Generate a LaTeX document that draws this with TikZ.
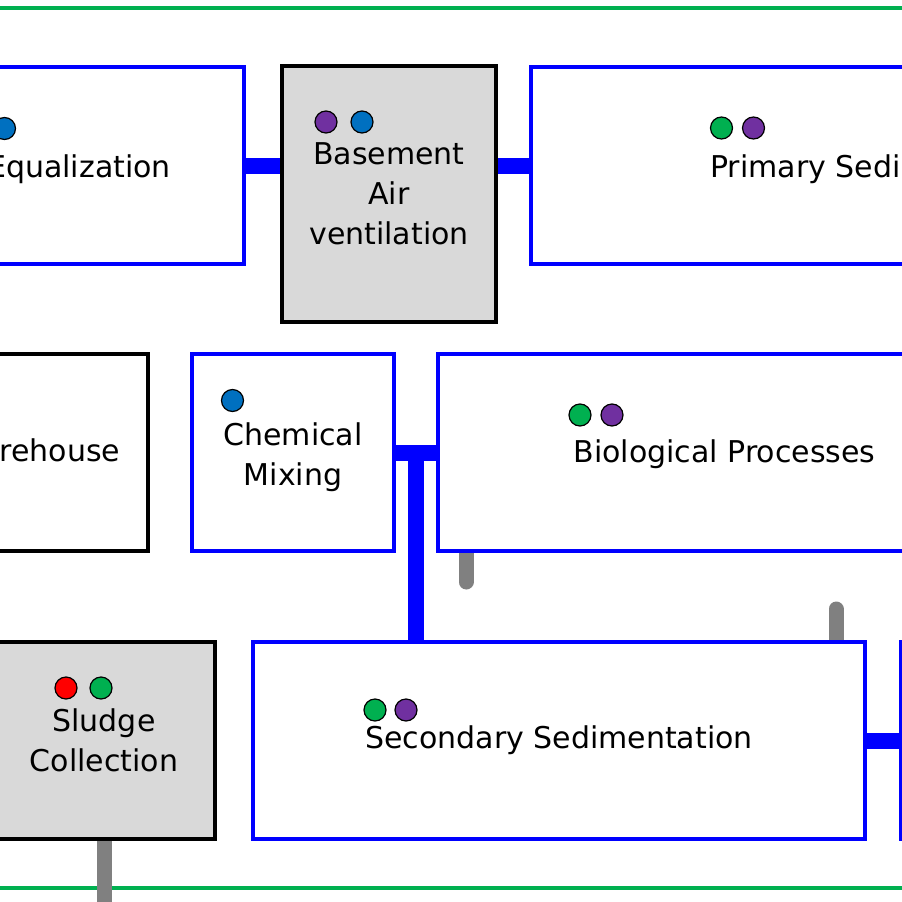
\documentclass[tikz,border=0pt]{standalone}
\usepackage{fontspec}
\setmainfont{DejaVu Sans}
\usetikzlibrary{backgrounds,calc}
\definecolor{lineblue}{HTML}{0000FF}
\definecolor{linegreen}{HTML}{00B050}
\definecolor{boxgray}{HTML}{D9D9D9}
\definecolor{stubgray}{HTML}{808080}
\definecolor{dotblue}{HTML}{0070C0}
\definecolor{dotpurple}{HTML}{7030A0}
\definecolor{dotgreen}{HTML}{00B050}
\definecolor{dotred}{HTML}{FF0000}
\begin{document}
\begin{tikzpicture}[x=1pt,y=-1pt,
  boxbase/.style={rectangle, line width=4pt, inner sep=0pt},
  bluebox/.style={boxbase, draw=lineblue, fill=white},
  blackbox/.style={boxbase, draw=black, fill=white},
  graybox/.style={boxbase, draw=black, fill=boxgray},
  boxtext/.style={align=center, inner sep=0pt, font=\fontsize{30}{40}\selectfont, text=black},
  pipe/.style={draw=lineblue, line width=16pt},
  stub/.style={draw=stubgray, line width=15pt, line cap=round},
  stubflat/.style={draw=stubgray, line width=15pt},
  rail/.style={draw=linegreen, line width=4pt},
  dot/.style={circle, draw=black, line width=1.2pt, minimum size=22pt, inner sep=0pt}]
\useasboundingbox (0,0) rectangle (902,902);
\clip (0,0) rectangle (902,902);

% boxes
\node[bluebox, minimum width=330pt, minimum height=197pt] (equal) at (79,165.5) {};
\node[graybox, minimum width=214pt, minimum height=256pt] (basement) at (389,194) {};
\node[bluebox, minimum width=703pt, minimum height=197pt] (primary) at (882.5,165.5) {};
\node[blackbox, minimum width=226pt, minimum height=197pt] (warehouse) at (35,452.5) {};
\node[bluebox, minimum width=202pt, minimum height=197pt] (chem) at (293,452.5) {};
\node[bluebox, minimum width=573pt, minimum height=197pt] (bio) at (724.5,452.5) {};
\node[graybox, minimum width=222pt, minimum height=197pt] (sludge) at (104,740.5) {};
\node[bluebox, minimum width=612pt, minimum height=197pt] (secondary) at (559,740.5) {};
\node[bluebox, minimum width=398pt, minimum height=197pt] (nextbox) at (1100,740.5) {};

% texts
\node[boxtext] (equalT) at ([yshift=-3.3pt]equal.center) {Equalization};
\node[boxtext] (basementT) at (basement.center) {Basement\\Air\\ventilation};
\node[boxtext] (primaryT) at ([yshift=-3.3pt]primary.center) {Primary Sedimentation};
\node[boxtext] (warehouseT) at ([xshift=2pt,yshift=2.2pt]warehouse.center) {Warehouse};
\node[boxtext] (chemT) at ([yshift=-4.5pt]chem.center) {Chemical\\Mixing};
\node[boxtext] (bioT) at ([yshift=-1.3pt]bio.center) {Biological Processes};
\node[boxtext] (sludgeT) at (sludge.center) {Sludge\\Collection};
\node[boxtext] (secondaryT) at (secondary.center) {Secondary Sedimentation};

% dots
\node[dot, fill=dotblue] (eqd1) at (4.5,128.5) {};
\node[dot, fill=dotpurple] (bad1) at (326,122) {};
\node[dot, fill=dotblue] (bad2) at (362,122) {};
\node[dot, fill=dotgreen] (prd1) at (721.5,128) {};
\node[dot, fill=dotpurple] (prd2) at (753.5,128) {};
\node[dot, fill=dotblue] (chd1) at (232.5,400.5) {};
\node[dot, fill=dotgreen] (bid1) at (580,415) {};
\node[dot, fill=dotpurple] (bid2) at (612,415) {};
\node[dot, fill=dotred] (sld1) at (66,688) {};
\node[dot, fill=dotgreen] (sld2) at (101,688) {};
\node[dot, fill=dotgreen] (sed1) at (375,710) {};
\node[dot, fill=dotpurple] (sed2) at (406,710) {};

\coordinate (tee) at ($(chem.east)!0.5!(bio.west)$);
\coordinate (s1) at (466,582);
\coordinate (s2) at (836,609);
\coordinate (s3) at (104,915);
\coordinate (railTL) at (-10,8);
\coordinate (railTR) at (912,8);
\coordinate (railBL) at (-10,888);
\coordinate (railBR) at (912,888);

\begin{pgfonlayer}{background}
  \draw[rail] (railTL) -- (railTR);
  \draw[rail] (railBL) -- (railBR);
  \draw[pipe] (equal.east) -- (equal.east -| basement.west);
  \draw[pipe] (primary.west -| basement.east) -- (primary.west);
  \draw[pipe] (chem.east) -- (bio.west);
  \draw[pipe] (tee) -- (tee |- secondary.north);
  \draw[pipe] (secondary.east) -- (nextbox.west);
  \draw[stub] (s1 |- bio.south) -- (s1);
  \draw[stub] (s2) -- (s2 |- secondary.north);
  \draw[stubflat] (sludge.south) -- (s3);
\end{pgfonlayer}
\end{tikzpicture}
\end{document}
